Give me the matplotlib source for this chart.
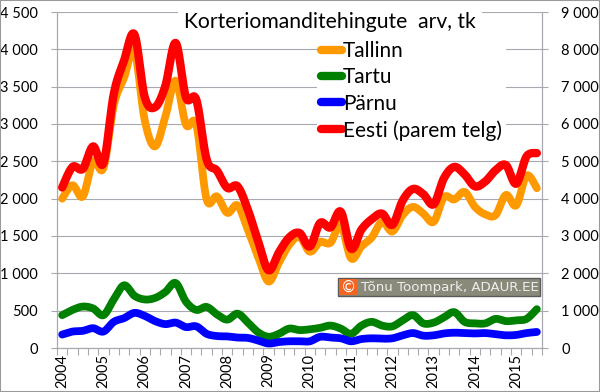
import numpy as np
import matplotlib
matplotlib.use("Agg")
import matplotlib.pyplot as plt
from matplotlib.lines import Line2D
from matplotlib.patches import Rectangle
from matplotlib.ticker import FuncFormatter, FixedLocator

plt.rcParams['font.family'] = ['Lato', 'DejaVu Sans']

years = ["2004", "2005", "2006", "2007", "2008", "2009", "2010",
         "2011", "2012", "2013", "2014", "2015"]

tallinn = [2000, 2180, 2030, 2500, 2410, 3250, 3620, 3980, 3050, 2700, 3100, 3580,
           2990, 2990, 1990, 2030, 1810, 1910, 1580, 1220, 890, 1140, 1380, 1490,
           1290, 1420, 1410, 1650, 1200, 1360, 1480, 1690, 1560, 1780, 1890, 1800,
           1690, 2020, 1990, 2090, 1890, 1790, 1780, 2050, 1910, 2310, 2140]
tartu = [440, 510, 555, 530, 440, 650, 840, 700, 650, 670, 750, 870,
         620, 510, 550, 450, 380, 460, 340, 210, 150, 190, 260, 240,
         250, 270, 300, 260, 190, 300, 350, 300, 290, 370, 440, 330,
         340, 410, 480, 350, 330, 330, 390, 360, 370, 390, 520]
parnu = [180, 220, 230, 265, 220, 350, 400, 470, 430, 360, 320, 340,
         280, 290, 190, 160, 155, 140, 135, 100, 60, 80, 90, 90,
         90, 150, 140, 130, 90, 120, 130, 125, 130, 170, 200, 165,
         170, 195, 205, 200, 195, 200, 185, 170, 175, 200, 215]
eesti = [4300, 4850, 4800, 5400, 4950, 6800, 7700, 8400, 6720, 6450, 7020, 8170,
         6710, 6650, 5050, 4750, 4290, 4330, 3700, 2850, 2080, 2560, 2960, 3080,
         2720, 3350, 3230, 3650, 2660, 3170, 3450, 3600, 3300, 3950, 4260, 4120,
         3850, 4550, 4850, 4650, 4330, 4460, 4760, 4900, 4400, 5130, 5220]

series_names = ["Tallinn", "Tartu", "Pärnu", "Eesti (parem telg)"]
colors = ["#FF9900", "#008000", "#0000FF", "#FF0000"]


def smooth(vals, n=16):
    """Bezier (Catmull-Rom style) smoothing like spreadsheet smoothed lines."""
    y = np.asarray(vals, dtype=float)
    x = np.arange(len(y), dtype=float)
    P = np.column_stack([x, y])
    Pp = np.vstack([P[0], P, P[-1]])
    out = []
    t = np.linspace(0, 1, n, endpoint=False)[:, None]
    for i in range(len(y) - 1):
        p0, p1, p2, p3 = Pp[i], Pp[i + 1], Pp[i + 2], Pp[i + 3]
        c1 = p1 + (p2 - p0) / 6.0
        c2 = p2 - (p3 - p1) / 6.0
        seg = ((1 - t) ** 3) * p1 + 3 * ((1 - t) ** 2) * t * c1 + 3 * (1 - t) * t ** 2 * c2 + t ** 3 * p2
        out.append(seg)
    out.append(P[-1][None, :])
    out = np.vstack(out)
    return out[:, 0], out[:, 1]


W, H = 600, 392
fig = plt.figure(figsize=(6.0, 3.92), dpi=100)
fig.patch.set_facecolor("white")

L, R, T, B = 57, 542, 12, 348
ax = fig.add_axes([L / W, 1 - B / H, (R - L) / W, (B - T) / H])
ax2 = ax.twinx()

n = len(tallinn)
lw = 5.6
for vals, c in zip([tallinn, tartu, parnu], colors[:3]):
    xs, ys = smooth(vals)
    ax.plot(xs, ys, color=c, lw=lw, solid_capstyle="round", solid_joinstyle="round")
xs, ys = smooth(eesti)
ax2.plot(xs, ys, color=colors[3], lw=lw + 0.4, solid_capstyle="round", solid_joinstyle="round")

ax.set_xlim(-0.5, n - 0.5)
ax.set_ylim(0, 4500)
ax2.set_ylim(0, 9000)

gridc = "#a8a8b0"
ax.set_yticks(np.arange(0, 4501, 500))
ax2.set_yticks(np.arange(0, 9001, 1000))
ax.yaxis.grid(True, color=gridc, lw=0.8)
ax.set_axisbelow(True)

fmt = FuncFormatter(lambda v, p: f"{int(round(v)):,}".replace(",", " "))
ax.yaxis.set_major_formatter(fmt)
ax2.yaxis.set_major_formatter(fmt)

# x ticks: marks at category boundaries, labels at each year's first quarter
ax.xaxis.set_major_locator(FixedLocator(np.arange(-0.5, n, 1.0)))
ax.xaxis.set_major_formatter(FuncFormatter(lambda v, p: ""))
ax.xaxis.set_minor_locator(FixedLocator(np.arange(0, n, 4)))
ax.set_xticklabels(years, minor=True, rotation=90, fontsize=10.5)
ax.tick_params(axis="x", which="major", length=5, width=0.8, color=gridc, direction="out")
ax.tick_params(axis="x", which="minor", length=0, pad=4)
ax.tick_params(axis="y", length=4, width=0.8, color=gridc, labelsize=10.5, pad=10)
ax2.tick_params(axis="y", length=4, width=0.8, color=gridc, labelsize=10.5, pad=10)
for lab in ax.get_xticklabels(minor=True):
    lab.set_va("top")

for a in (ax, ax2):
    a.spines["top"].set_visible(False)
    for s in ("left", "right", "bottom"):
        a.spines[s].set_color(gridc)
        a.spines[s].set_linewidth(0.8)
    a.patch.set_visible(False)
ax.patch.set_visible(True)
ax.patch.set_facecolor("white")

# title with white background
fig.text(330 / W, 1 - 22 / H, "Korteriomanditehingute  arv, tk", ha="center", va="center",
         fontsize=15.2, color="black", zorder=6,
         bbox=dict(facecolor="white", edgecolor="none", boxstyle="square,pad=0.3"))

# legend
handles = [Line2D([0], [0], color=c, lw=lw + 0.4, solid_capstyle="round") for c in colors]
leg = fig.legend(handles, series_names, loc="upper left",
                 bbox_to_anchor=(317 / W, 1 - 37 / H), frameon=True,
                 fontsize=15, handlelength=1.0, handletextpad=0.05,
                 labelspacing=0.3, borderpad=0.2, borderaxespad=0)
leg.get_frame().set_facecolor("white")
leg.get_frame().set_edgecolor("none")
leg.get_frame().set_alpha(1)
leg.set_zorder(6)

# watermark
fig.add_artist(Rectangle((338 / W, 1 - 296 / H), 202 / W, 18 / H, transform=fig.transFigure,
                         facecolor="#8a8a7a", edgecolor="#5a5a5a", lw=1, zorder=7))
fig.add_artist(Rectangle((339 / W, 1 - 295 / H), 19 / W, 16 / H, transform=fig.transFigure,
                         facecolor="#F26522", edgecolor="none", zorder=8))
fig.text(348.5 / W, 1 - 287 / H, "©", ha="center", va="center", color="white",
         fontsize=11, family="DejaVu Sans", zorder=9)
fig.text(361 / W, 1 - 287.5 / H, "Tõnu Toompark, ADAUR.EE", ha="left", va="center",
         color="#eeeeee", fontsize=9.6, family="DejaVu Sans", zorder=9)

# outer border
fig.add_artist(Rectangle((0, 0), 1, 1, transform=fig.transFigure, fill=False,
                         edgecolor="#9a9a9a", lw=1.5, zorder=10))

fig.savefig("out.png", dpi=100)
